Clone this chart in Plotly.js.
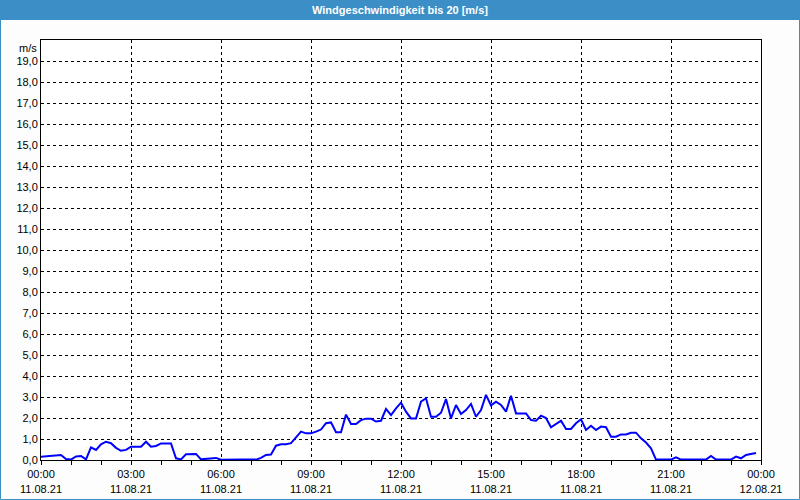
<!DOCTYPE html>
<html>
<head>
<meta charset="utf-8">
<script src="https://cdn.plot.ly/plotly-3.0.1.min.js"></script>
<style>html,body{margin:0;padding:0;background:#fff}#chart{width:800px;height:500px}</style>
</head>
<body>
<div id="chart"></div>
<script>
// Wind speed [m/s], one value every 10 minutes, 11.08.21 00:00 .. 23:50
var windSpeed = [
  0.15, 0.18, 0.19, 0.24, 0.24, 0.05,
  0.02, 0.17, 0.19, 0.03, 0.60, 0.48,
  0.75, 0.87, 0.80, 0.58, 0.44, 0.48,
  0.63, 0.63, 0.63, 0.87, 0.63, 0.67,
  0.79, 0.79, 0.79, 0.08, 0.03, 0.27,
  0.27, 0.29, 0.03, 0.05, 0.10, 0.10,
  0.01, 0.02, 0.02, 0.02, 0.02, 0.02,
  0.02, 0.02, 0.10, 0.24, 0.26, 0.68,
  0.75, 0.75, 0.80, 1.10, 1.35, 1.27,
  1.27, 1.35, 1.45, 1.75, 1.79, 1.32,
  1.32, 2.16, 1.71, 1.71, 1.90, 1.97,
  1.97, 1.83, 1.87, 2.43, 2.14, 2.46,
  2.73, 2.30, 1.98, 1.98, 2.78, 2.94,
  2.06, 2.06, 2.25, 2.90, 1.98, 2.62,
  2.19, 2.38, 2.67, 2.06, 2.38, 3.10,
  2.60, 2.78, 2.62, 2.30, 3.06, 2.22,
  2.22, 2.22, 1.90, 1.87, 2.11, 2.00,
  1.56, 1.71, 1.87, 1.48, 1.48, 1.75,
  1.94, 1.43, 1.63, 1.43, 1.59, 1.56,
  1.11, 1.11, 1.22, 1.22, 1.30, 1.30,
  1.03, 0.83, 0.56, 0.02, 0.02, 0.02,
  0.02, 0.13, 0.02, 0.02, 0.02, 0.02,
  0.05, 0.02, 0.19, 0.02, 0.02, 0.02,
  0.02, 0.16, 0.08, 0.24, 0.29, 0.33
];
var startTime = '2021-08-11T00:00:00';
var stepMinutes = 10;
var xTickVals = ['2021-08-11 00:00','2021-08-11 03:00','2021-08-11 06:00','2021-08-11 09:00',
                 '2021-08-11 12:00','2021-08-11 15:00','2021-08-11 18:00','2021-08-11 21:00','2021-08-12 00:00'];
var xTickTimes = ['00:00','03:00','06:00','09:00','12:00','15:00','18:00','21:00','00:00'];
var xTickDates = ['11.08.21','11.08.21','11.08.21','11.08.21','11.08.21','11.08.21','11.08.21','11.08.21','12.08.21'];
var yTickVals = [0,1,2,3,4,5,6,7,8,9,10,11,12,13,14,15,16,17,18,19];
var yTickText = ['0,0','1,0','2,0','3,0','4,0','5,0','6,0','7,0','8,0','9,0','10,0','11,0','12,0','13,0','14,0','15,0','16,0','17,0','18,0','19,0'];
var chartTitle = 'Windgeschwindigkeit bis 20 [m/s]';
var unitLabel = 'm/s';

function pad(n){return (n<10?'0':'')+n;}
var t0 = new Date(startTime + 'Z').getTime();
var times = windSpeed.map(function(_, i){
  var d = new Date(t0 + i*stepMinutes*60000);
  return d.getUTCFullYear()+'-'+pad(d.getUTCMonth()+1)+'-'+pad(d.getUTCDate())+' '+pad(d.getUTCHours())+':'+pad(d.getUTCMinutes());
});
var xTickText = xTickTimes.map(function(t,i){return t+'<br>'+xTickDates[i];});

var font = 'Liberation Sans, Arial, sans-serif';
var W = 720, H = 420, L = 41, T = 40;
function px(x){return (x-L)/W;}
function py(y){return (T+H-y)/H;}

var trace = {
  x: times, y: windSpeed, type: 'scatter', mode: 'lines',
  line: {color: '#0000ff', width: 2}, hoverinfo: 'x+y'
};

var layout = {
  width: 800, height: 500,
  margin: {l: 41, r: 39, t: 40, b: 40, pad: 0},
  paper_bgcolor: '#fcfdfc', plot_bgcolor: '#ffffff',
  showlegend: false,
  font: {family: font, size: 11, color: '#000'},
  title: {text: chartTitle, x: 0.5, xref: 'container', xanchor: 'center',
          y: 1 - 10/500, yref: 'container', yanchor: 'middle',
          font: {family: font, size: 11, color: '#ffffff', weight: 'bold'}},
  xaxis: {
    type: 'date', range: ['2021-08-11 00:00', '2021-08-12 00:00'],
    tickmode: 'array', tickvals: xTickVals, ticktext: xTickText,
    ticks: 'outside', ticklen: 4, tickcolor: '#000', tickwidth: 1,
    minor: {dtick: 3600000, ticks: 'outside', ticklen: 4, tickcolor: '#000', showgrid: false},
    showgrid: true, gridcolor: '#000', gridwidth: 1, griddash: '3px,3px',
    showline: true, linecolor: '#000', linewidth: 1, mirror: true,
    zeroline: false, tickangle: 0, fixedrange: true,
    tickfont: {family: font, size: 11, color: '#000'}
  },
  yaxis: {
    range: [0, 20], tickmode: 'array', tickvals: yTickVals, ticktext: yTickText,
    ticks: '', showgrid: true, gridcolor: '#000', gridwidth: 1, griddash: '3px,3px',
    showline: true, linecolor: '#000', linewidth: 1, mirror: true,
    zeroline: false, fixedrange: true,
    tickfont: {family: font, size: 11, color: '#000'}
  },
  shapes: [
    {type: 'rect', xref: 'paper', yref: 'paper', layer: 'below',
     x0: px(0), x1: px(800), y0: py(20), y1: py(0),
     fillcolor: '#3b8fc6', line: {width: 0}},
    {type: 'rect', xref: 'paper', yref: 'paper', layer: 'above',
     x0: px(0.5), x1: px(799.5), y0: py(499.5), y1: py(0.5),
     fillcolor: 'rgba(0,0,0,0)', line: {color: '#3b8fc6', width: 1}}
  ],
  annotations: [
    {text: unitLabel, xref: 'paper', yref: 'paper', x: 0, y: 1, xanchor: 'right', yanchor: 'top',
     xshift: -2, yshift: 0, showarrow: false, font: {family: font, size: 11, color: '#000'}}
  ]
};

Plotly.newPlot('chart', [trace], layout, {displayModeBar: false, staticPlot: true});
</script>
</body>
</html>
